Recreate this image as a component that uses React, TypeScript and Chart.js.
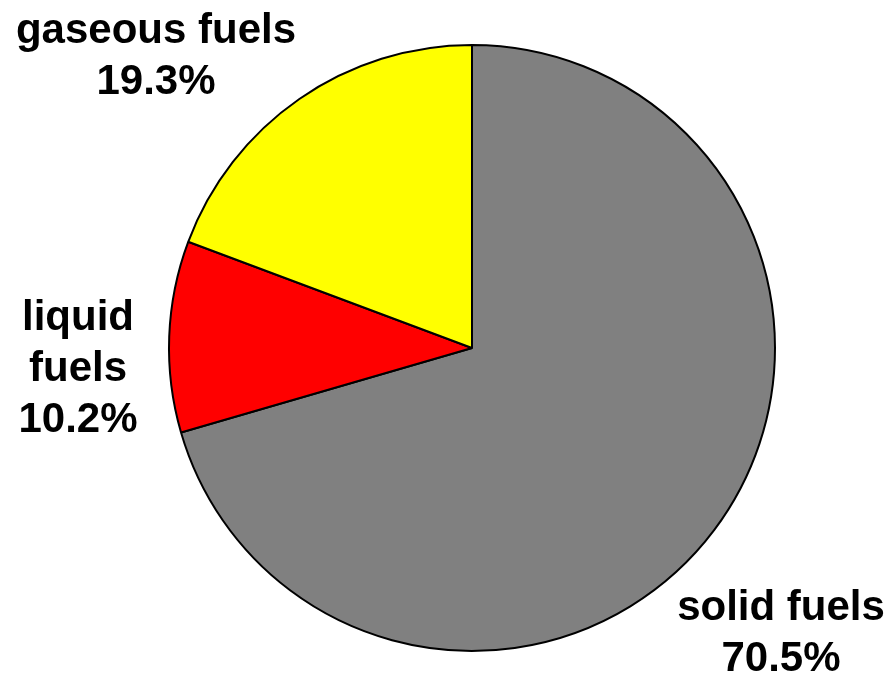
import React, { useEffect, useRef } from "react";
import { Chart, registerables } from "chart.js";

Chart.register(...registerables);

const categories = ["solid fuels", "liquid fuels", "gaseous fuels"];
const values = [70.5, 10.2, 19.3];
const colors = ["#808080", "#ff0000", "#ffff00"];

// label layout: lines and anchor (center x, first baseline y)
const labelLines = [
  ["solid fuels", "70.5%"],
  ["liquid", "fuels", "10.2%"],
  ["gaseous fuels", "19.3%"],
];
const labelAnchors = [
  { x: 781, y: 620 },
  { x: 78, y: 330 },
  { x: 156, y: 43 },
];

const labelPlugin = {
  id: "pieLabels",
  afterDraw(chart: any) {
    const ctx = chart.ctx;
    ctx.save();
    ctx.font = "bold 42px 'Liberation Sans', Arial, sans-serif";
    ctx.fillStyle = "#000";
    ctx.textAlign = "center";
    ctx.textBaseline = "alphabetic";
    labelLines.forEach((lines, i) => {
      const a = labelAnchors[i];
      lines.forEach((t, j) => {
        ctx.fillText(t, a.x, a.y + j * 51);
      });
    });
    ctx.restore();
  },
};

export default function App() {
  const ref = useRef<HTMLCanvasElement>(null);
  useEffect(() => {
    document.body.style.margin = "0";
    const chart = new Chart(ref.current!, {
      type: "pie",
      data: {
        labels: categories,
        datasets: [
          {
            data: values,
            backgroundColor: colors,
            borderColor: "#000",
            borderWidth: 2,
          },
        ],
      },
      options: {
        animation: false,
        responsive: false,
        events: [],
        layout: { padding: { left: 168, right: 115, top: 44, bottom: 23 } },
        plugins: {
          legend: { display: false },
          tooltip: { enabled: false },
        },
      },
      plugins: [labelPlugin],
    });
    return () => chart.destroy();
  }, []);
  return (
    <div style={{ position: "absolute", left: 0, top: 0, width: 891, height: 675 }}>
      <canvas ref={ref} width={891} height={675} />
    </div>
  );
}
